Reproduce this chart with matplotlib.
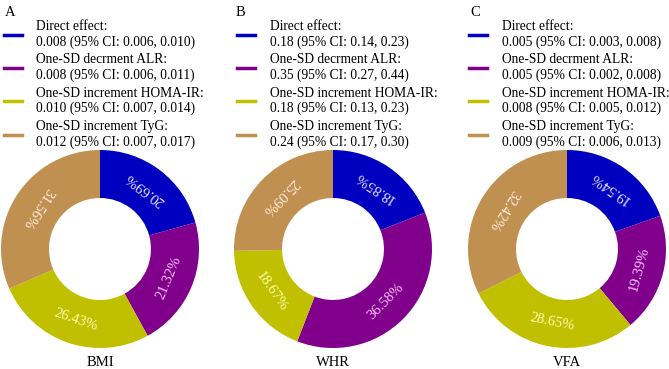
import matplotlib
matplotlib.use('Agg')
import matplotlib.pyplot as plt
from matplotlib.lines import Line2D

plt.rcParams['font.family'] = ['Liberation Serif', 'DejaVu Serif']

# data
panels = ['A', 'B', 'C']
outcomes = ['BMI', 'WHR', 'VFA']
names = ['Direct effect:', 'One-SD decrment ALR:',
         'One-SD increment HOMA-IR:', 'One-SD increment TyG:']
effects_bmi = ['0.008 (95% CI: 0.006, 0.010)', '0.008 (95% CI: 0.006, 0.011)',
               '0.010 (95% CI: 0.007, 0.014)', '0.012 (95% CI: 0.007, 0.017)']
effects_whr = ['0.18 (95% CI: 0.14, 0.23)', '0.35 (95% CI: 0.27, 0.44)',
               '0.18 (95% CI: 0.13, 0.23)', '0.24 (95% CI: 0.17, 0.30)']
effects_vfa = ['0.005 (95% CI: 0.003, 0.008)', '0.005 (95% CI: 0.002, 0.008)',
               '0.008 (95% CI: 0.005, 0.012)', '0.009 (95% CI: 0.006, 0.013)']
pct_bmi = [20.69, 21.32, 26.43, 31.56]
pct_whr = [18.85, 36.58, 18.67, 25.09]
pct_vfa = [19.54, 19.39, 28.65, 32.42]

colors = ['#0000c0', '#80008c', '#c0c000', '#c09050']
txt_colors = ['#e8e8ff', '#ffc8ff', '#ffffb0', '#fff0dc']

W, H = 669, 369
fig = plt.figure(figsize=(W / 100, H / 100), dpi=100)

centers = [(100, 249), (333, 249), (567, 249)]
letter_x = [5, 236, 470]
legend_x = [4, 237, 469]
r = 99
pad = 1.01

for i, (pct, eff) in enumerate(zip([pct_bmi, pct_whr, pct_vfa],
                                   [effects_bmi, effects_whr, effects_vfa])):
    cx, cy = centers[i]
    half = r * pad
    ax = fig.add_axes([(cx - half) / W, (H - cy - half) / H, 2 * half / W, 2 * half / H])
    wedges, _, autotexts = ax.pie(pct, colors=colors, startangle=90, counterclock=False,
                                  autopct='%.2f%%', pctdistance=0.755,
                                  wedgeprops=dict(width=0.485, linewidth=0),
                                  textprops=dict(fontsize=10.5))
    for w, t, c, p in zip(wedges, autotexts, txt_colors, pct):
        th = (w.theta1 + w.theta2) / 2
        t.set_text(f'{p:.2f}%')
        t.set_rotation(th + 90)
        t.set_rotation_mode('anchor')
        t.set_ha('center')
        t.set_va('center')
        t.set_color(c)
    ax.set_xlim(-pad, pad)
    ax.set_ylim(-pad, pad)
    ax.set_aspect('equal')

    handles = [Line2D([], [], color=c, lw=2.5) for c in colors]
    labels = [n + '\n' + e for n, e in zip(names, eff)]
    ax.legend(handles, labels, loc='upper left',
              bbox_to_anchor=(legend_x[i] / W, 1 - 20 / H),
              bbox_transform=fig.transFigure, frameon=False, fontsize=9.75,
              handlelength=1.3, handletextpad=1.1, labelspacing=0.36,
              borderpad=0, borderaxespad=0)

    fig.text(letter_x[i] / W, 1 - 12 / H, panels[i], fontsize=10.5, va='center', ha='left')
    fig.text(cx / W, 1 - 362 / H, outcomes[i], fontsize=10.5, va='center', ha='center')

fig.savefig('out.png', dpi=100)
